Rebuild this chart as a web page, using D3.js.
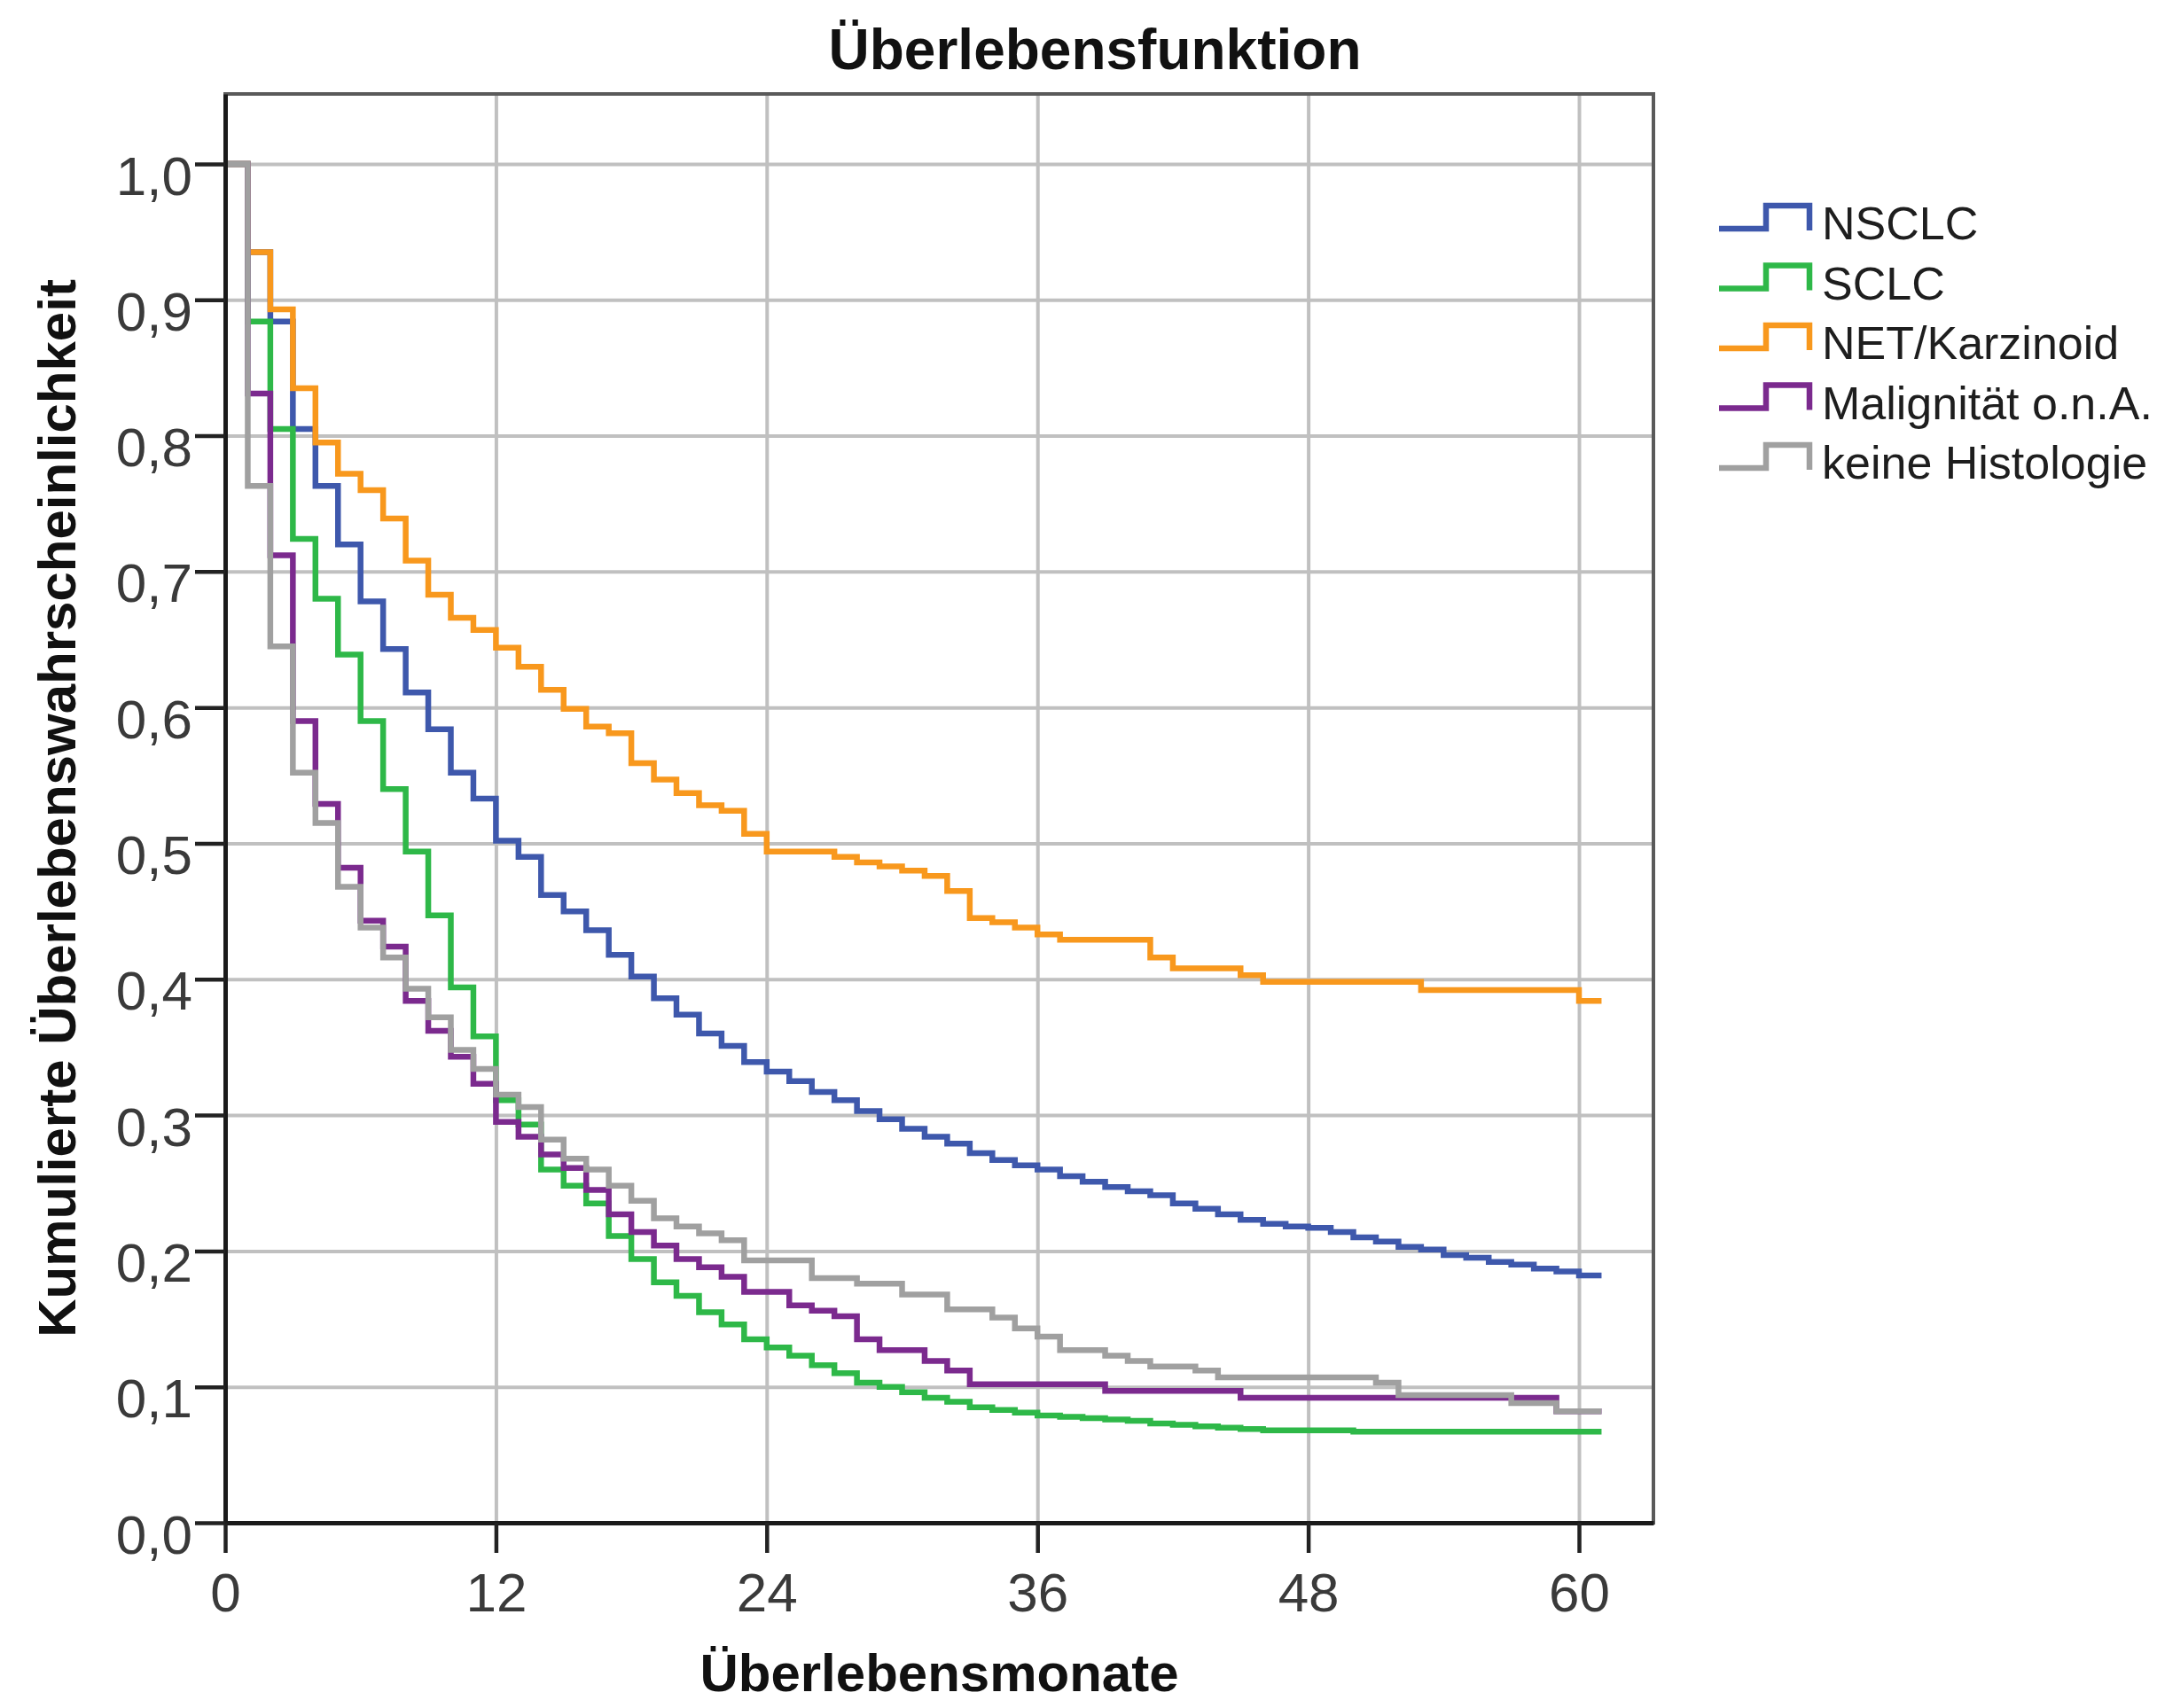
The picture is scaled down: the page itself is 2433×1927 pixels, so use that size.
<!DOCTYPE html>
<html>
<head>
<meta charset="utf-8">
<script src="https://cdn.jsdelivr.net/npm/d3@7"></script>
<style>
  body { margin: 0; background: #fff; }
  text { font-family: "Liberation Sans", Arial, sans-serif; }
</style>
</head>
<body>
<div id="chart"></div>
<script>
// Kaplan-Meier Überlebensfunktion (SPSS-Stil)

// Werte je Monat (Index = Monat, Wert gilt von Monat m bis m+1), Kurve endet bei Monat 61
const seriesNames = ["NSCLC", "SCLC", "NET/Karzinoid", "Malignität o.n.A.", "keine Histologie"];
const seriesColors = ["#3e58ac", "#2eb848", "#f8981d", "#7b2a8e", "#a0a0a0"];

const nsclc = [1.0, 0.935, 0.884, 0.805, 0.763, 0.720, 0.678, 0.643, 0.611, 0.584,
  0.552, 0.533, 0.502, 0.490, 0.462, 0.450, 0.436, 0.418, 0.402, 0.386,
  0.374, 0.360, 0.351, 0.339, 0.332, 0.325, 0.317, 0.311, 0.303, 0.297,
  0.290, 0.284, 0.279, 0.272, 0.267, 0.263, 0.260, 0.255, 0.251, 0.247,
  0.244, 0.241, 0.235, 0.231, 0.227, 0.223, 0.220, 0.218, 0.217, 0.214,
  0.210, 0.207, 0.203, 0.201, 0.197, 0.195, 0.192, 0.190, 0.187, 0.185, 0.182];

const sclc = [1.0, 0.884, 0.805, 0.724, 0.680, 0.639, 0.590, 0.540, 0.494, 0.447,
  0.394, 0.358, 0.311, 0.293, 0.260, 0.248, 0.235, 0.211, 0.194, 0.177,
  0.167, 0.155, 0.146, 0.135, 0.129, 0.123, 0.116, 0.110, 0.103, 0.100,
  0.096, 0.092, 0.089, 0.085, 0.083, 0.081, 0.079, 0.078, 0.077, 0.076,
  0.075, 0.073, 0.072, 0.071, 0.070, 0.069, 0.068, 0.068, 0.068, 0.068,
  0.067, 0.067, 0.067, 0.067, 0.067, 0.067, 0.067, 0.067, 0.067, 0.067, 0.067];

const netKarzinoid = [1.0, 0.935, 0.893, 0.835, 0.795, 0.772, 0.760, 0.739, 0.708, 0.683,
  0.666, 0.657, 0.644, 0.630, 0.613, 0.599, 0.586, 0.581, 0.559, 0.547,
  0.537, 0.528, 0.524, 0.507, 0.494, 0.494, 0.494, 0.490, 0.486, 0.483,
  0.480, 0.476, 0.465, 0.445, 0.442, 0.438, 0.433, 0.429, 0.429, 0.429,
  0.429, 0.416, 0.408, 0.408, 0.408, 0.403, 0.398, 0.398, 0.398, 0.398,
  0.398, 0.398, 0.398, 0.392, 0.392, 0.392, 0.392, 0.392, 0.392, 0.392, 0.384];

const malignitaet = [1.0, 0.831, 0.712, 0.590, 0.529, 0.482, 0.443, 0.424, 0.384, 0.362,
  0.343, 0.323, 0.295, 0.284, 0.271, 0.261, 0.245, 0.227, 0.214, 0.204,
  0.194, 0.188, 0.181, 0.170, 0.170, 0.160, 0.156, 0.152, 0.135, 0.127,
  0.127, 0.119, 0.112, 0.102, 0.102, 0.102, 0.102, 0.102, 0.102, 0.097,
  0.097, 0.097, 0.097, 0.097, 0.097, 0.092, 0.092, 0.092, 0.092, 0.092,
  0.092, 0.092, 0.092, 0.092, 0.092, 0.092, 0.092, 0.092, 0.092, 0.082, 0.082];

const keineHistologie = [1.0, 0.763, 0.645, 0.552, 0.515, 0.468, 0.438, 0.416, 0.393, 0.372,
  0.348, 0.334, 0.315, 0.306, 0.282, 0.268, 0.260, 0.248, 0.237, 0.224,
  0.218, 0.213, 0.208, 0.193, 0.193, 0.193, 0.180, 0.180, 0.176, 0.176,
  0.168, 0.168, 0.157, 0.157, 0.151, 0.143, 0.137, 0.127, 0.127, 0.123,
  0.119, 0.115, 0.115, 0.112, 0.107, 0.107, 0.107, 0.107, 0.107, 0.107,
  0.107, 0.103, 0.094, 0.094, 0.094, 0.094, 0.094, 0.088, 0.088, 0.082, 0.082];

const seriesValues = [nsclc, sclc, netKarzinoid, malignitaet, keineHistologie];
const lastMonth = 61;

const xTicks = [0, 12, 24, 36, 48, 60];
const yTicks = [0, 0.1, 0.2, 0.3, 0.4, 0.5, 0.6, 0.7, 0.8, 0.9, 1.0];

// Größe und Ränder
const W = 2433, H = 1927;
const margin = { top: 106, right: 568, bottom: 209, left: 254 };
const innerW = W - margin.left - margin.right;
const innerH = H - margin.top - margin.bottom;

const svg = d3.select("#chart").append("svg")
  .attr("width", W)
  .attr("height", H)
  .style("background", "white");

const g = svg.append("g").attr("transform", `translate(${margin.left},${margin.top})`);

const x = d3.scaleLinear().domain([0, 63.3]).range([0, innerW]);
const y = d3.scaleLinear().domain([0, 1.0515]).range([innerH, 0]);

// Deutsches Zahlenformat (Komma)
const de = d3.formatLocale({ decimal: ",", thousands: ".", grouping: [3], currency: ["", " €"] });
const fmt = de.format(".1f");

// Gitterlinien
g.append("g")
  .attr("transform", `translate(0,${innerH})`)
  .call(d3.axisBottom(x).tickValues(xTicks).tickSize(-innerH).tickFormat(""))
  .call(s => s.select(".domain").remove())
  .selectAll("line").attr("stroke", "#c0c0c0").attr("stroke-width", 4);

g.append("g")
  .call(d3.axisLeft(y).tickValues(yTicks).tickSize(-innerW).tickFormat(""))
  .call(s => s.select(".domain").remove())
  .selectAll("line").attr("stroke", "#c0c0c0").attr("stroke-width", 4);

// Rahmen oben / rechts
g.append("rect")
  .attr("x", 0).attr("y", 0)
  .attr("width", innerW).attr("height", innerH)
  .attr("fill", "none")
  .attr("stroke", "#5a5a5a")
  .attr("stroke-width", 4);

// Kurven (Treppenfunktion)
const line = d3.line()
  .x(d => x(d[0]))
  .y(d => y(d[1]))
  .curve(d3.curveStepAfter);

seriesValues.forEach((vals, i) => {
  const pts = vals.map((v, m) => [m, v]);
  pts.push([lastMonth, vals[vals.length - 1]]);
  g.append("path")
    .datum(pts)
    .attr("fill", "none")
    .attr("stroke", seriesColors[i])
    .attr("stroke-width", 6.5)
    .attr("stroke-linejoin", "miter")
    .attr("d", line);
});

// Achsen
const xAxis = g.append("g")
  .attr("transform", `translate(0,${innerH})`)
  .call(d3.axisBottom(x).tickValues(xTicks).tickSize(34).tickPadding(22).tickSizeOuter(0));
xAxis.select(".domain").attr("stroke", "#1a1a1a").attr("stroke-width", 5);
xAxis.selectAll(".tick line").attr("stroke", "#222").attr("stroke-width", 4.5);
xAxis.selectAll("text")
  .attr("font-size", 62)
  .attr("font-family", "Liberation Sans, Arial, sans-serif")
  .attr("fill", "#3a3a3a");

const yAxis = g.append("g")
  .call(d3.axisLeft(y).tickValues(yTicks).tickSize(34).tickPadding(3).tickSizeOuter(0).tickFormat(fmt));
yAxis.select(".domain").attr("stroke", "#1a1a1a").attr("stroke-width", 5);
yAxis.selectAll(".tick line").attr("stroke", "#222").attr("stroke-width", 4.5);
yAxis.selectAll("text")
  .attr("font-size", 62)
  .attr("dy", "0.55em")
  .attr("font-family", "Liberation Sans, Arial, sans-serif")
  .attr("fill", "#3a3a3a");

// Titel und Achsenbeschriftungen
svg.append("text")
  .attr("x", 1235).attr("y", 78)
  .attr("text-anchor", "middle")
  .attr("font-size", 64)
  .attr("font-weight", "bold")
  .attr("fill", "#111")
  .text("Überlebensfunktion");

svg.append("text")
  .attr("x", margin.left + innerW / 2).attr("y", 1908)
  .attr("text-anchor", "middle")
  .attr("font-size", 60)
  .attr("font-weight", "bold")
  .attr("fill", "#111")
  .text("Überlebensmonate");

svg.append("text")
  .attr("transform", `translate(85,${margin.top + innerH / 2}) rotate(-90)`)
  .attr("text-anchor", "middle")
  .attr("font-size", 60)
  .attr("font-weight", "bold")
  .attr("fill", "#111")
  .text("Kumulierte Überlebenswahrscheinlichkeit");

// Legende
const legend = svg.append("g").attr("transform", "translate(1939,258)");
const rowH = 67.5;

seriesNames.forEach((name, i) => {
  const row = legend.append("g").attr("transform", `translate(0,${i * rowH})`);
  row.append("path")
    .attr("d", "M0,0 H53 V-26 H102 V2")
    .attr("fill", "none")
    .attr("stroke", seriesColors[i])
    .attr("stroke-width", 6.5);
  row.append("text")
    .attr("x", 116).attr("y", 12)
    .attr("font-size", 52)
    .attr("fill", "#1e1e1e")
    .text(name);
});
</script>
</body>
</html>
